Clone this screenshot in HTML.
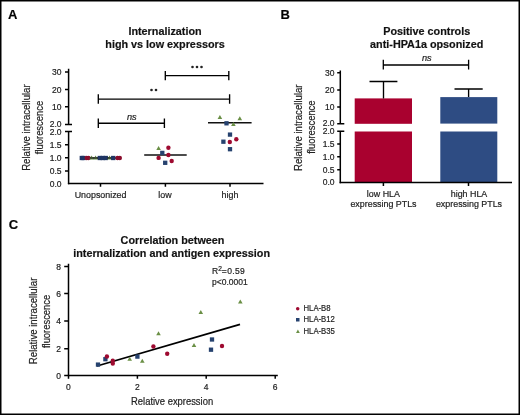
<!DOCTYPE html>
<html><head><meta charset="utf-8">
<style>
html,body{margin:0;padding:0;background:#fff;}
body{width:520px;height:415px;overflow:hidden;position:relative;}
svg{position:absolute;left:0;top:0;will-change:transform;}
text{font-family:"Liberation Sans",sans-serif;fill:#222;stroke:#222;stroke-width:0.2px;}
.t{font-weight:bold;font-size:10.8px;fill:#111;}
.pl{font-weight:bold;font-size:13px;fill:#000;}
.tk{font-size:8.5px;fill:#333;}
.xl{font-size:8.9px;fill:#222;}
.yl{font-size:10.7px;fill:#222;stroke-width:0.05px;}
.ax{stroke:#000;stroke-width:1.5;fill:none;}
.br{stroke:#000;stroke-width:1.35;fill:none;}
.r{fill:#9e0a30;}
.b{fill:#26426f;}
.g{fill:#6a8f45;}
</style></head><body>
<svg width="520" height="415" viewBox="0 0 520 415">
<defs>
<circle id="c" r="2.2"/>
<rect id="s" x="-2.15" y="-2.15" width="4.3" height="4.3"/>
<path id="tr" d="M0,-2.4 L2.3,1.6 L-2.3,1.6 Z"/>
</defs>
<!-- border -->
<rect x="0.75" y="0.75" width="518.5" height="413.5" fill="none" stroke="#000" stroke-width="1.5"/>

<!-- ================= PANEL A ================= -->
<text class="pl" x="8" y="18.8">A</text>
<text class="t" x="165" y="35" text-anchor="middle">Internalization</text>
<text class="t" x="165" y="47.5" text-anchor="middle">high vs low expressors</text>

<!-- y axis upper -->
<path class="ax" d="M68.6,68.7 V124.5 M65,72.1 H68.6 M65,89.4 H68.6 M65,106.7 H68.6 M65,124.5 H72"/>
<!-- y axis lower -->
<path class="ax" d="M68.6,131.6 V184.3 M65,131.6 H72 M65,144.7 H68.6 M65,157.8 H68.6 M65,170.9 H68.6"/>
<!-- x axis -->
<path class="ax" d="M67.9,183.6 H263.5 M100.5,183.6 V186.8 M165.4,183.6 V186.8 M230,183.6 V186.8"/>
<g class="tk" text-anchor="end">
<text x="61.5" y="75.3">30</text>
<text x="61.5" y="92.6">20</text>
<text x="61.5" y="109.8">10</text>
<text x="61.5" y="126.6">2.0</text>
<text x="61.5" y="134.7">2.0</text>
<text x="61.5" y="148">1.5</text>
<text x="61.5" y="161">1.0</text>
<text x="61.5" y="174">0.5</text>
<text x="61.5" y="186.5">0.0</text>
</g>
<g class="yl" text-anchor="middle">
<text transform="translate(30,127.6) rotate(-90) scale(0.9,1)">Relative intracellular</text>
<text transform="translate(42.8,127.5) rotate(-90) scale(0.88,1)">fluorescence</text>
</g>
<g class="xl" text-anchor="middle">
<text x="100.6" y="198.2">Unopsonized</text>
<text x="165" y="198.2">low</text>
<text x="230" y="198.2">high</text>
</g>
<!-- brackets -->
<path class="br" d="M165.3,75.6 H228.8 M165.3,70.9 V80.2 M228.8,70.9 V80.2"/>
<path class="br" d="M98.3,99.1 H229.6 M98.3,94.2 V103.7 M229.6,94.2 V103.7"/>
<path class="br" d="M98.3,123.2 H164.4 M98.3,118.4 V128 M164.4,118.4 V128"/>
<g fill="#222"><circle cx="192.5" cy="67" r="1.3"/><circle cx="197" cy="67" r="1.3"/><circle cx="201.5" cy="67" r="1.3"/></g>
<g fill="#222"><circle cx="151.5" cy="90" r="1.3"/><circle cx="156" cy="90" r="1.3"/></g>
<text x="131.8" y="119.6" text-anchor="middle" style="font-size:9.2px;font-style:italic;fill:#222">ns</text>

<!-- data A: unopsonized -->
<path d="M80,158 H121" stroke="#111" stroke-width="1.5"/>
<g>
<use href="#s" fill="#1f3564" x="81.8" y="158"/>
<use href="#s" fill="#1f3564" x="83.5" y="158"/>
<use href="#c" fill="#8a0c2c" x="86.7" y="158"/>
<use href="#c" fill="#8a0c2c" x="88.5" y="158"/>
<use href="#tr" fill="#5d8440" x="91.6" y="158"/>
<use href="#tr" fill="#5d8440" x="95.6" y="158"/>
<use href="#s" fill="#1f3564" x="99.8" y="158"/>
<use href="#s" fill="#1f3564" x="102.8" y="158"/>
<use href="#s" fill="#1f3564" x="105.8" y="158"/>
<use href="#tr" fill="#5d8440" x="109.6" y="158"/>
<use href="#s" fill="#1f3564" x="113.2" y="158"/>
<use href="#c" fill="#8a0c2c" x="117.5" y="158"/>
<use href="#c" fill="#8a0c2c" x="119.8" y="158"/>
</g>
<path d="M90,158 H98 M107,158 H111" stroke="#222" stroke-width="1"/>
<!-- low -->
<path d="M144.2,155 H186.7" stroke="#111" stroke-width="1.5"/>
<use href="#tr" class="g" x="158.6" y="148.3"/>
<use href="#c" class="r" x="168.4" y="147.8"/>
<use href="#s" class="b" x="162.3" y="152.9"/>
<use href="#c" class="r" x="168.4" y="155"/>
<use href="#c" class="r" x="158.6" y="157.9"/>
<use href="#s" class="b" x="165.2" y="162.8"/>
<use href="#c" class="r" x="171.7" y="161"/>
<!-- high -->
<path d="M208,122.7 H251.6" stroke="#111" stroke-width="1.5"/>
<use href="#tr" class="g" x="219.9" y="117.4"/>
<use href="#tr" class="g" x="239.8" y="118.7"/>
<use href="#s" class="b" x="226.5" y="123.3"/>
<use href="#tr" class="g" x="233.4" y="124.4"/>
<use href="#s" class="b" x="230" y="134.6"/>
<use href="#c" class="r" x="236.3" y="139.2"/>
<use href="#s" class="b" x="223.4" y="141.7"/>
<use href="#c" class="r" x="229.8" y="142"/>
<use href="#s" class="b" x="230" y="149.2"/>

<!-- ================= PANEL B ================= -->
<text class="pl" x="280.5" y="19.3">B</text>
<text class="t" x="426.7" y="35" text-anchor="middle">Positive controls</text>
<text class="t" x="426.7" y="47.5" text-anchor="middle">anti-HPA1a opsonized</text>

<!-- bars -->
<rect x="354.7" y="98.4" width="57.3" height="25.4" fill="#a9012f"/>
<rect x="354.7" y="131.5" width="57.3" height="51" fill="#a9012f"/>
<rect x="440.3" y="97.1" width="57" height="26.5" fill="#2e4c83"/>
<rect x="440.3" y="131.5" width="57" height="51" fill="#2e4c83"/>
<!-- error bars -->
<path class="br" d="M383.5,98.4 V81.5 M369.5,81.5 H397.4"/>
<path class="br" d="M468.6,97.1 V89 M454.5,89 H482.7"/>
<!-- axes -->
<path class="ax" d="M340.3,70.6 V123.8 M337.2,72.8 H340.3 M337.2,90.1 H340.3 M337.2,107 H340.3 M337.2,123.8 H344.3"/>
<path class="ax" d="M340.3,131.3 V183.2 M337.2,131.3 H344.3 M337.2,143.9 H340.3 M337.2,156.8 H340.3 M337.2,169.7 H340.3"/>
<path class="ax" d="M339.6,182.5 H512 M383.4,182.5 V186 M468.5,182.5 V186"/>
<g class="tk" text-anchor="end">
<text x="334.5" y="75.8">30</text>
<text x="334.5" y="93.1">20</text>
<text x="334.5" y="110">10</text>
<text x="334.5" y="126">2.0</text>
<text x="334.5" y="134.2">2.0</text>
<text x="334.5" y="146.9">1.5</text>
<text x="334.5" y="160">1.0</text>
<text x="334.5" y="172.7">0.5</text>
<text x="334.5" y="185.4">0.0</text>
</g>
<g class="yl" text-anchor="middle">
<text transform="translate(301.8,127.7) rotate(-90) scale(0.9,1)">Relative intracellular</text>
<text transform="translate(315,127.1) rotate(-90) scale(0.88,1)">fluorescence</text>
</g>
<g class="xl" text-anchor="middle">
<text x="383.4" y="197.3">low HLA</text>
<text x="383.5" y="207">expressing PTLs</text>
<text x="469" y="197.3">high HLA</text>
<text x="469" y="207">expressing PTLs</text>
</g>
<path class="br" style="stroke-width:1.3" d="M383.3,65 H468.6 M383.3,59.8 V69.5 M468.6,59.8 V69.5"/>
<text x="426.8" y="61.4" text-anchor="middle" style="font-size:9.2px;font-style:italic;fill:#222">ns</text>

<!-- ================= PANEL C ================= -->
<text class="pl" x="8.7" y="228.8">C</text>
<text class="t" x="172.5" y="244" text-anchor="middle">Correlation between</text>
<text class="t" x="171.6" y="256.9" text-anchor="middle">internalization and antigen expression</text>

<path class="ax" d="M68.5,263.7 V376.2 M64.2,266.6 H68.5 M64.2,293.5 H68.5 M64.2,321.1 H68.5 M64.2,348.7 H68.5 M64.2,375.5 H68.5"/>
<path class="ax" d="M67.8,375.5 H277.8 M68.5,375.5 V378.8 M137.4,375.5 V378.8 M206.2,375.5 V378.8 M275.2,375.5 V378.8"/>
<g class="tk" text-anchor="end">
<text x="61" y="269.7">8</text>
<text x="61" y="296.6">6</text>
<text x="61" y="324.2">4</text>
<text x="61" y="351.8">2</text>
<text x="61" y="378.8">0</text>
</g>
<g class="tk" text-anchor="middle">
<text x="68.3" y="390.4">0</text>
<text x="137.4" y="390.4">2</text>
<text x="206.2" y="390.4">4</text>
<text x="275.2" y="390.4">6</text>
</g>
<text x="0" y="404.9" text-anchor="middle" style="font-size:10.7px;fill:#222" transform="translate(172.1 0) scale(0.88 1)">Relative expression</text>
<g class="yl" text-anchor="middle">
<text transform="translate(37,320.9) rotate(-90) scale(0.9,1)">Relative intracellular</text>
<text transform="translate(49.5,321.4) rotate(-90) scale(0.88,1)">fluorescence</text>
</g>
<text x="212" y="274" style="font-size:8.5px;fill:#222">R<tspan dy="-3.3" style="font-size:6.6px">2</tspan><tspan dy="3.3" style="letter-spacing:0.35px">=0.59</tspan></text>
<text x="212" y="285" style="font-size:8.5px;fill:#222">p&lt;0.0001</text>

<path d="M97,366 L240,324.3" stroke="#000" stroke-width="1.8"/>
<use href="#s" class="b" x="98" y="364.6"/>
<use href="#s" class="b" x="105.4" y="359.2"/>
<use href="#c" class="r" x="106.9" y="356.5"/>
<use href="#c" class="r" x="112.8" y="360.8"/>
<use href="#c" class="r" x="112.8" y="363.5"/>
<use href="#tr" class="g" x="129.7" y="359.2"/>
<use href="#s" class="b" x="137.4" y="356.6"/>
<use href="#tr" class="g" x="142.3" y="361.2"/>
<use href="#c" class="r" x="153.4" y="346.5"/>
<use href="#tr" class="g" x="158.5" y="333.6"/>
<use href="#c" class="r" x="167.2" y="353.8"/>
<use href="#tr" class="g" x="194" y="345.3"/>
<use href="#tr" class="g" x="200.8" y="312.3"/>
<use href="#s" class="b" x="212" y="339.5"/>
<use href="#s" class="b" x="211" y="349.7"/>
<use href="#c" class="r" x="222" y="346"/>
<use href="#tr" class="g" x="240.3" y="302"/>

<!-- legend -->
<circle class="r" cx="297.7" cy="308.7" r="1.75"/>
<rect class="b" x="296" y="318" width="3.5" height="3.5"/>
<path class="g" d="M297.9,329.6 L299.8,332.9 L296,332.9 Z"/>
<g style="font-size:8.6px;fill:#222">
<text transform="translate(303.5,311.3) scale(0.9,1)">HLA-B8</text>
<text transform="translate(303.5,322.3) scale(0.9,1)">HLA-B12</text>
<text transform="translate(303.5,334.1) scale(0.9,1)">HLA-B35</text>
</g>
</svg>
</body></html>
